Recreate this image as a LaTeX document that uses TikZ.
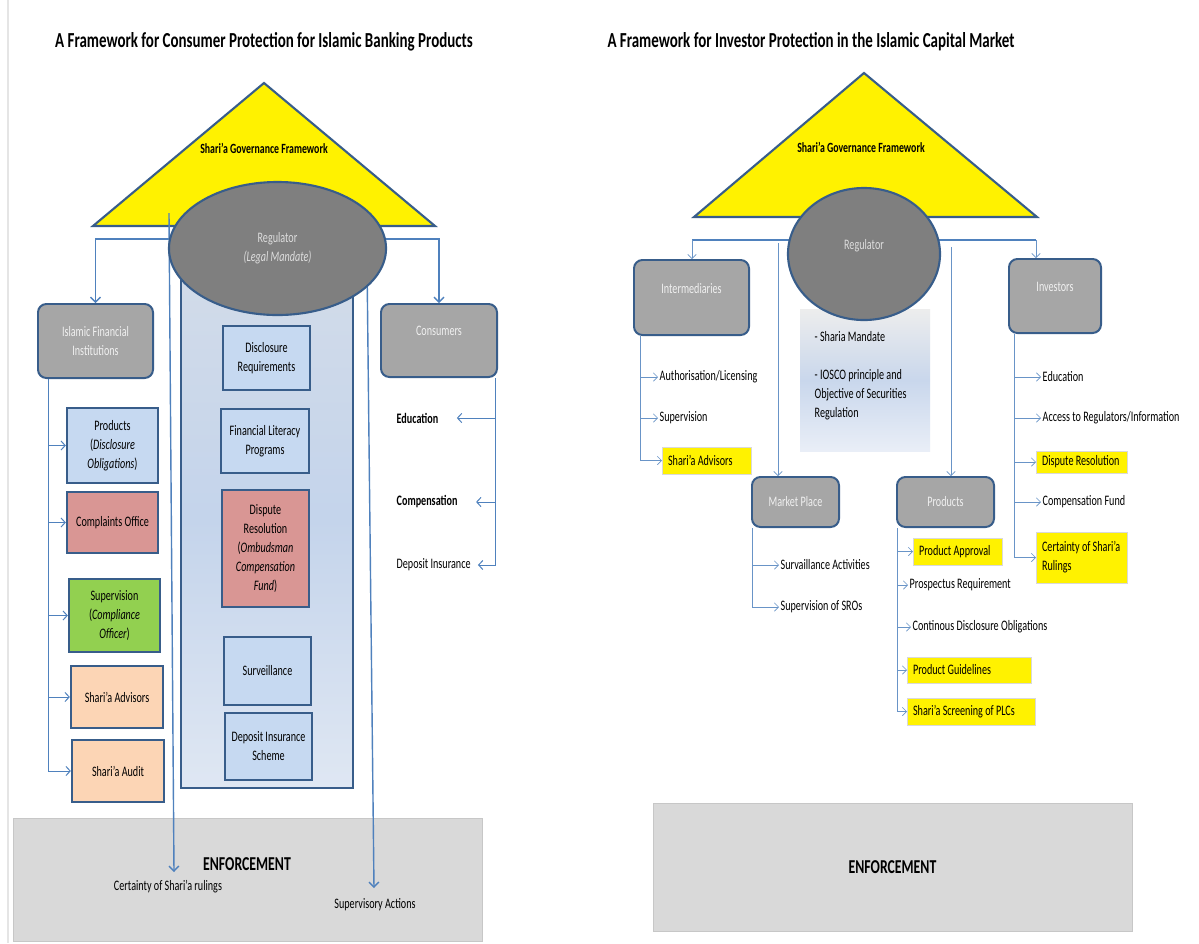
\documentclass[tikz,border=0pt]{standalone}
\usepackage{fontspec}
\setmainfont{Carlito}[FakeStretch=0.7]
\usetikzlibrary{arrows.meta,shapes.geometric}
\definecolor{lineblue}{HTML}{4F81BD}
\definecolor{boxblue}{HTML}{385D8A}
\definecolor{gfill}{HTML}{A6A6A6}
\definecolor{regfill}{HTML}{7F7F7F}
\definecolor{gtext}{HTML}{F0F0F0}
\definecolor{lblue}{HTML}{C6D9F1}
\definecolor{rose}{HTML}{D99694}
\definecolor{lgreen}{HTML}{92D050}
\definecolor{peach}{HTML}{FCD5B5}
\definecolor{enffill}{HTML}{D9D9D9}
\definecolor{colt}{HTML}{D3DCE9}
\definecolor{colm}{HTML}{C4D4EB}
\definecolor{colb}{HTML}{DFE7F3}
\definecolor{mtop}{HTML}{EDEDED}
\definecolor{mmid}{HTML}{C9D7EC}
\definecolor{mbot}{HTML}{E9EEF7}
\tikzset{
  lnk/.style={draw=lineblue,line width=1pt},
  arr/.style={lnk,-{Straight Barb[length=3.5pt,width=7pt]}},
  barr/.style={draw=lineblue,line width=0.7pt,-{Straight Barb[length=3pt,width=6.5pt]}},
  tarr/.style={draw=lineblue!85,line width=0.5pt,-{Straight Barb[length=3pt,width=6pt]}},
  tri/.style={fill=yellow,draw=boxblue,line width=1.5pt},
  trilab/.style={font=\fontsize{10}{12}\selectfont\bfseries},
  title/.style={font=\fontsize{15.2}{18}\selectfont\bfseries},
  reg/.style={ellipse,fill=regfill,draw=boxblue,line width=1.5pt,text=gtext!92!black,align=center},
  gbox/.style={rectangle,rounded corners=6pt,fill=gfill,draw=boxblue,line width=1.4pt,text=gtext,align=center},
  cbox/.style={rectangle,draw=boxblue,line width=1.6pt,align=center},
  ybox/.style={fill=yellow,draw=black!15,line width=0.6pt,anchor=west,align=flush left,inner xsep=4pt,inner ysep=1pt},
  item/.style={anchor=west,inner sep=1pt},
  enf/.style={fill=enffill,draw=black!22,line width=0.6pt},
  enflab/.style={font=\fontsize{14}{16}\selectfont\bfseries},
}
\begin{document}
\begin{tikzpicture}[x=0.025cm,y=-0.025cm,every node/.style={font=\fontsize{10.3}{13.5}\selectfont}]
\fill[white] (0,0) rectangle (1199,943);
\useasboundingbox (0,0) rectangle (1199,943);
\draw[black!10,line width=0.8pt] (8,0) -- (8,943);
%LEFT: CONSUMER PROTECTION
\node[title] (t1) at (264,42) {A Framework for Consumer Protection for Islamic Banking Products};
\filldraw[tri] (93,226) -- (264,83) -- (435,226) -- cycle;
\node[trilab] (g1) at (264,148) {Shari'a Governance Framework};
\node[enf,minimum width=11.725cm,minimum height=3.075cm] (enf1) at (247.5,879.5) {};
\node[enflab] (et1) at (247,864) {ENFORCEMENT};
\node (cert) at (168,887) {Certainty of Shari'a rulings};
\node (spa) at (375,905) {Supervisory Actions};
\path[draw=boxblue,line width=1.4pt,top color=colt,bottom color=colb,middle color=colm] (181,250) rectangle (353,788);
\coordinate (sl) at (169,213); \coordinate (el) at (174,872);
\coordinate (sr) at (367,262); \coordinate (er) at (374,888);
\draw[arr] (sl) -- (el);
\draw[arr] (sr) -- (er);
\node[reg,minimum width=5.425cm,minimum height=3.325cm] (reg1) at (277.5,248.5) {Regulator\\\textit{(Legal Mandate)}};
\node[gbox,minimum width=2.875cm,minimum height=1.85cm] (ifi) at (95.5,341) {Islamic Financial\\Institutions};
\node[gbox,minimum width=2.9cm,minimum height=1.825cm] (cons) at (439,340.5) {Consumers\\\mbox{}};
\draw[arr] (reg1.175) -| (ifi.north);
\draw[arr] (reg1.5) -| (cons.north);
% institutions
\node[cbox,fill=lblue,minimum width=2.275cm,minimum height=1.875cm] (prod) at (112.5,445.5) {Products\\(\textit{Disclosure}\\\textit{Obligations})};
\node[cbox,fill=rose,minimum width=2.275cm,minimum height=1.525cm] (comp) at (112.5,522.5) {Complaints Office};
\node[cbox,fill=lgreen,minimum width=2.275cm,minimum height=1.825cm] (sup) at (114.5,615.5) {Supervision\\(\textit{Compliance}\\\textit{Officer})};
\node[cbox,fill=peach,minimum width=2.3cm,minimum height=1.55cm] (adv) at (117,697) {Shari'a Advisors};
\node[cbox,fill=peach,minimum width=2.3cm,minimum height=1.55cm] (aud) at (118,771) {Shari'a Audit};
\foreach \b in {prod,comp,sup,adv,aud}
  \draw[barr] ([xshift=8.5pt]ifi.south west) |- (\b.west);
% regulator column
\node[cbox,fill=lblue,minimum width=2.175cm,minimum height=1.6cm] (dreq) at (266.5,358) {Disclosure\\Requirements};
\node[cbox,fill=lblue,minimum width=2.2cm,minimum height=1.6cm] (flp) at (265,441) {Financial Literacy\\Programs};
\node[cbox,fill=rose,minimum width=2.175cm,minimum height=2.925cm] (dres) at (265.5,548.5) {Dispute\\Resolution\\(\textit{Ombudsman}\\\textit{Compensation}\\\textit{Fund})};
\node[cbox,fill=lblue,minimum width=2.175cm,minimum height=1.7cm] (surv) at (267.5,671) {Surveillance};
\node[cbox,fill=lblue,minimum width=2.175cm,minimum height=1.675cm] (dis) at (268.5,746.5) {Deposit Insurance\\Scheme};
% consumers
\node[item,font=\fontsize{10.3}{13.5}\selectfont\bfseries] (edu) at (395,418) {Education};
\node[item,font=\fontsize{10.3}{13.5}\selectfont\bfseries] (cmp) at (395,502) {Compensation};
\node[item] (dins) at (395,565) {Deposit Insurance};
\draw[barr] ([xshift=-2pt]cons.south east) |- ([xshift=12pt]edu.east);
\draw[barr] ([xshift=-2pt]cons.south east) |- ([xshift=12pt]cmp.east);
\draw[barr] ([xshift=-2pt]cons.south east) |- ([xshift=4pt]dins.east);
%RIGHT: INVESTOR PROTECTION
\node[title] (t2) at (811,42) {A Framework for Investor Protection in the Islamic Capital Market};
\filldraw[tri] (694,217) -- (864,73) -- (1037,217) -- cycle;
\node[trilab] (g2) at (861,147) {Shari'a Governance Framework};
\path[top color=mtop,bottom color=mbot,middle color=mmid] (800,309) rectangle (930,451);
\coordinate (hl) at (692,240); \coordinate (hr) at (1036,240);
\draw[draw=lineblue,line width=1.6pt] (hl) -- (hr);
\node[gbox,minimum width=2.875cm,minimum height=1.875cm] (inter) at (691.5,297.5) {Intermediaries\\\mbox{}};
\node[gbox,minimum width=2.3cm,minimum height=1.85cm] (inv) at (1055,296) {Investors\\\mbox{}};
\node[gbox,minimum width=2.175cm,minimum height=1.25cm] (mkt) at (795.5,502) {Market Place};
\node[gbox,minimum width=2.425cm,minimum height=1.25cm] (prd) at (945.5,502) {Products};
\draw[tarr] (hl) -- (hl |- inter.north);
\draw[tarr] (hr) -- (hr |- inv.north);
\draw[tarr] (778,243) -- (778,0 |- mkt.north);
\draw[tarr] (951,247) -- (951,0 |- prd.north);
\node[reg,minimum width=3.8cm,minimum height=3.3cm] (reg2) at (864,254) {Regulator\\\mbox{}};
\node[item,align=left] (mand) at (813,375.5) {- Sharia Mandate\\[4.7mm]- IOSCO principle and\\Objective of Securities\\Regulation};
% intermediaries
\node[item] (auth) at (658,377) {Authorisation/Licensing};
\node[item] (isup) at (658,418) {Supervision};
\node[ybox,text width=55pt,minimum height=0.675cm] (iadv) at (662,460.5) {Shari'a Advisors};
\foreach \b in {auth,isup,iadv}
  \draw[tarr] ([xshift=5pt]inter.south west) |- (\b.west);
% market place
\node[item] (surva) at (779,565) {Survaillance Activities};
\node[item] (sros) at (779,607) {Supervision of SROs};
\foreach \b in {surva,sros}
  \draw[tarr] ([xshift=1pt]mkt.south west) |- (\b.west);
% products
\node[ybox,text width=55pt,minimum height=0.675cm] (papp) at (913,551.5) {Product Approval};
\node[item] (pros) at (908,585) {Prospectus Requirement};
\node[item] (cdo) at (911,627) {Continous Disclosure Obligations};
\node[ybox,text width=80pt,minimum height=0.65cm] (pgl) at (907,670) {Product Guidelines};
\node[ybox,text width=83pt,minimum height=0.675cm] (pscr) at (907,711.5) {Shari'a Screening of PLCs};
\foreach \b in {papp,pros,cdo,pgl,pscr}
  \draw[tarr] ([xshift=1pt]prd.south west) |- (\b.west);
% investors
\node[item] (iedu) at (1041,377) {Education};
\node[item] (acc) at (1041,418) {Access to Regulators/Information};
\node[ybox,text width=57pt,minimum height=0.55cm] (idr) at (1036,462) {Dispute Resolution};
\node[item] (cfund) at (1041,502) {Compensation Fund};
\node[ybox,text width=57pt,minimum height=1.275cm] (icert) at (1036,557.5) {Certainty of Shari'a\\Rulings};
\foreach \b in {iedu,acc,idr,cfund,icert}
  \draw[tarr] ([xshift=4.5pt]inv.south west) |- (\b.west);
\node[enf,enflab,minimum width=11.975cm,minimum height=3.2cm] (enf2) at (892.5,867) {ENFORCEMENT};
\end{tikzpicture}
\end{document}
